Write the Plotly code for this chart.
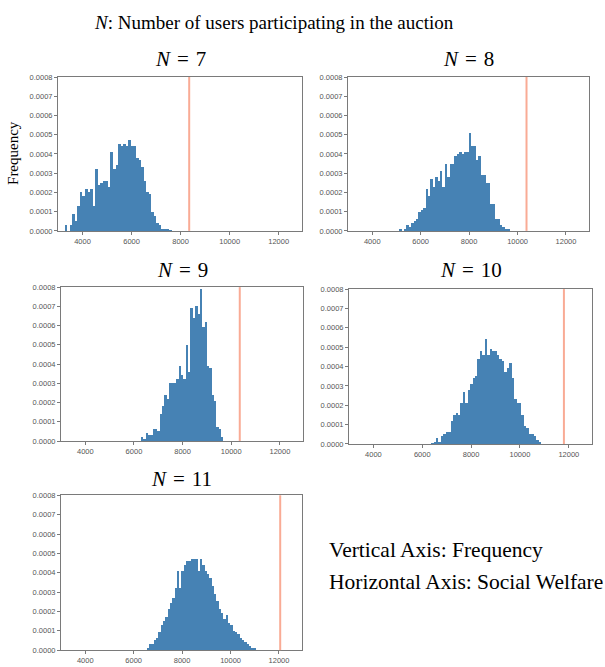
import plotly.graph_objects as go

# ---------------- data ----------------
n_users = [7, 8, 9, 10, 11]

bin_starts = [3268, 5114, 6285, 6361, 6534]
bin_widths = [104, 99, 97, 100, 96]

freq_n7 = [0.00003, 0.0, 0.00003, 0.00009, 0.00005, 0.00013, 0.0002, 0.00018, 0.00022, 0.0002,
           0.00022, 0.00013, 0.00032, 0.00024, 0.00025, 0.00026, 0.00026, 0.00023, 0.00041, 0.00032,
           0.00034, 0.00045, 0.00044, 0.00045, 0.00044, 0.00047, 0.00044, 0.00044, 0.00038, 0.00037,
           0.00033, 0.00026, 0.0002, 0.00019, 0.0001, 0.00008, 0.00004, 0.00003, 0.00001, 0.000006,
           0.000005, 0.000003]
freq_n8 = [0.00001, 0.0, 0.00001, 0.00003, 0.00002, 0.00004, 0.00005, 0.00006, 0.0001, 0.00011,
           0.00012, 0.00022, 0.00018, 0.00027, 0.00023, 0.00028, 0.00026, 0.00031, 0.00023, 0.00035,
           0.00028, 0.00035, 0.00035, 0.00039, 0.0004, 0.00041, 0.0004, 0.00041, 0.00041, 0.00051,
           0.00044, 0.00044, 0.00037, 0.00039, 0.00029, 0.00029, 0.00025, 0.00025, 0.00014, 0.00014,
           0.00006, 0.00006, 0.00003, 0.00002, 0.00001, 0.00001]
freq_n9 = [0.00002, 0.000005, 0.00004, 0.00003, 0.00003, 0.00006, 0.00006, 0.00005, 0.00014, 0.00018,
           0.00024, 0.00022, 0.0003, 0.0003, 0.0003, 0.00032, 0.00039, 0.00034, 0.00032, 0.0005,
           0.00036, 0.00069, 0.00064, 0.0007, 0.00066, 0.00079, 0.00059, 0.00062, 0.00039, 0.00038,
           0.00024, 0.00021, 0.00007, 0.00006, 0.00002]
freq_n10 = [0.000003, 0.00001, 0.00003, 0.00001, 0.00004, 0.00005, 0.00006, 0.00006, 0.00012, 0.00015,
            0.00016, 0.00015, 0.00021, 0.00027, 0.00021, 0.00028, 0.00031, 0.00034, 0.00035, 0.00044,
            0.00048, 0.00046, 0.00054, 0.00046, 0.00049, 0.00048, 0.00048, 0.00046, 0.00044, 0.00043,
            0.00037, 0.00039, 0.00042, 0.00034, 0.00023, 0.00021, 0.00021, 0.00015, 0.00009, 0.00008,
            0.00005, 0.00005, 0.00004, 0.00002, 0.00001]
freq_n11 = [0.00001, 0.00003, 0.00003, 0.00005, 0.00006, 0.00009, 0.00013, 0.00015, 0.00017, 0.00021,
            0.00024, 0.00027, 0.00032, 0.00041, 0.00032, 0.00041, 0.00044, 0.00046, 0.00046, 0.00047,
            0.00047, 0.00047, 0.00041, 0.00047, 0.00044, 0.00041, 0.00039, 0.00037, 0.00033, 0.00029,
            0.00025, 0.00021, 0.00019, 0.00016, 0.00018, 0.00014, 0.00013, 0.0001, 0.00009, 0.00008,
            0.00006, 0.00005, 0.00004, 0.00003, 0.00002, 0.00001, 0.000005]
freqs = [freq_n7, freq_n8, freq_n9, freq_n10, freq_n11]

optimal_welfare = [8350, 10370, 10350, 11800, 12050]

x_tick_vals = [4000, 6000, 8000, 10000, 12000]
x_tick_text = ["4000", "6000", "8000", "10000", "12000"]
y_tick_vals = [0.0, 0.0001, 0.0002, 0.0003, 0.0004, 0.0005, 0.0006, 0.0007, 0.0008]

main_title = "<i>N</i>: Number of users participating in the auction"
y_label = "Frequency"
note_lines = ["Vertical Axis: Frequency", "Horizontal Axis: Social Welfare"]

# ---------------- layout (pixels) ----------------
W, H = 605, 667
# (left, right, top, bottom) in pixels for each panel
boxes = [(58, 302, 74, 230), (348, 589, 74, 230), (61, 303, 287, 443),
         (349, 592, 289, 446), (61, 302, 498, 655)]
title_y = [56, 56, 270, 270, 482]

BAR = "#4682b4"
LINE = "#f9ab95"
FRAME = "#7a7a7a"
SERIF = "Liberation Serif, Times New Roman, serif"
SANS = "Liberation Sans, Arial, sans-serif"

fig = go.Figure()
layout = dict(width=W, height=H, margin=dict(l=0, r=0, t=0, b=0),
              paper_bgcolor="white", plot_bgcolor="white", showlegend=False,
              bargap=0, annotations=[], shapes=[])

for i, n in enumerate(n_users):
    s = "" if i == 0 else str(i + 1)
    l, r, t, b = boxes[i]
    xs = [bin_starts[i] + (k + 0.5) * bin_widths[i] for k in range(len(freqs[i]))]
    fig.add_trace(go.Bar(x=xs, y=freqs[i], width=bin_widths[i],
                         marker=dict(color=BAR, line=dict(width=0)),
                         xaxis="x" + s, yaxis="y" + s, hoverinfo="skip"))
    axis_common = dict(showline=True, mirror=True, linecolor=FRAME, linewidth=1,
                       showgrid=False, zeroline=False, ticks="outside", ticklen=3,
                       tickcolor=FRAME, tickfont=dict(family=SANS, size=7.5, color="#555"))
    layout["xaxis" + s] = dict(domain=[l / W, r / W], range=[3000, 12950],
                               tickvals=x_tick_vals, ticktext=x_tick_text,
                               anchor="y" + s, **axis_common)
    layout["yaxis" + s] = dict(domain=[1 - b / H, 1 - t / H], range=[0, 0.0008],
                               tickvals=y_tick_vals, tickformat=".4f", anchor="x" + s,
                               **axis_common)
    layout["shapes"].append(dict(type="line", xref="x" + s, yref="y" + s + " domain",
                                 x0=optimal_welfare[i], x1=optimal_welfare[i], y0=0, y1=1,
                                 line=dict(color=LINE, width=2)))
    layout["annotations"].append(dict(text="<i>N</i>\u2004=\u2004%d" % n, x=(l + r) / 2 / W,
                                      y=1 - title_y[i] / H, xref="paper", yref="paper",
                                      showarrow=False, xanchor="center", yanchor="middle",
                                      font=dict(family=SERIF, size=21, color="black")))

layout["annotations"].append(dict(text=main_title, x=274 / W, y=1 - 19 / H, xref="paper",
                                  yref="paper", showarrow=False, xanchor="center",
                                  yanchor="middle",
                                  font=dict(family=SERIF, size=19, color="black")))
layout["annotations"].append(dict(text=y_label, x=13 / W, y=1 - 151 / H, xref="paper",
                                  yref="paper", showarrow=False, textangle=-90,
                                  xanchor="center", yanchor="middle",
                                  font=dict(family=SERIF, size=15, color="black")))
for j, (txt, yy) in enumerate(zip(note_lines, [553, 586])):
    layout["annotations"].append(dict(text=txt, x=327 / W, y=1 - yy / H, xref="paper",
                                      yref="paper", showarrow=False, xanchor="left",
                                      yanchor="middle",
                                      font=dict(family=SERIF, size=21.5, color="black")))

fig.update_layout(**layout)
fig.write_html("out.html")
